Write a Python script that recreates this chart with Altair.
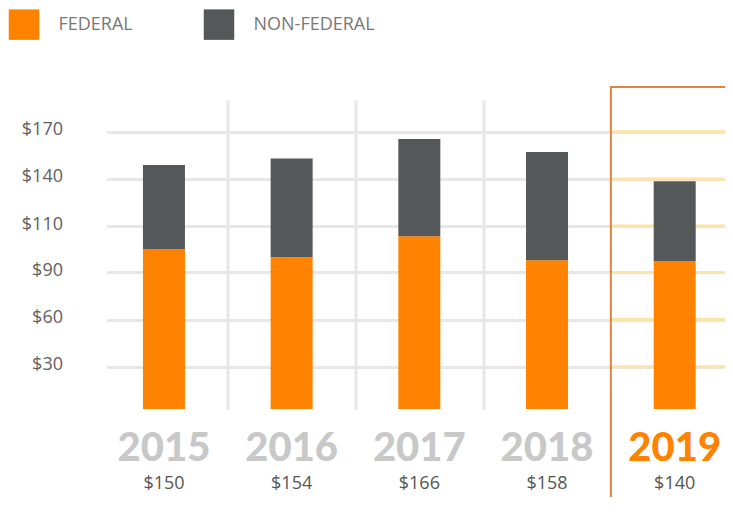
import altair as alt
import pandas as pd

# ---- data ----
years = ["2015", "2016", "2017", "2018", "2019"]
federal = [98.4, 93.3, 106.2, 91.5, 91.0]
totals = [150, 154, 166, 158, 140]
total_labels = ["$150", "$154", "$166", "$158", "$140"]
series = ["FEDERAL", "NON-FEDERAL"]
series_colors = ["#FF8300", "#555859"]
tick_positions = [26, 55, 84, 112.5, 141.5, 170.5]
tick_labels = ["$30", "$60", "$90", "$110", "$140", "$170"]
highlight_year = "2019"

non_federal = [round(t - f, 1) for t, f in zip(totals, federal)]
idx = list(range(len(years)))
hl_idx = years.index(highlight_year)

rows = []
for i, y, f, nf in zip(idx, years, federal, non_federal):
    rows.append({"idx": i, "year": y, "series": series[0], "value": f, "ord": 0})
    rows.append({"idx": i, "year": y, "series": series[1], "value": nf, "ord": 1})
bars_df = pd.DataFrame(rows)

labels_df = pd.DataFrame({
    "idx": idx,
    "year": years,
    "total_label": total_labels,
    "hl": [y == highlight_year for y in years],
})
box_df = pd.DataFrame({"idx": [hl_idx - 0.5], "idx2": [hl_idx + 1.5]})
boxgrid_df = pd.DataFrame({
    "value": tick_positions,
    "idx": [hl_idx - 0.5] * len(tick_positions),
    "idx2": [hl_idx + 1.5] * len(tick_positions),
})

label_expr = " : ".join(
    f"datum.value == {v} ? '{l}'" for v, l in zip(tick_positions, tick_labels)
) + " : ''"

x_scale = alt.Scale(domain=[-0.45, 4.39], nice=False, zero=False, padding=0)
y_scale = alt.Scale(domain=[0, 190], nice=False, zero=True, padding=0)

GRID = "#e7e7e7"

x_axis = alt.Axis(values=[0.5, 1.5, 2.5], labels=False, ticks=False,
                  domain=False, grid=True, gridColor=GRID, gridWidth=3,
                  title=None)
y_axis = alt.Axis(values=tick_positions, labelExpr=label_expr,
                  ticks=False, domain=False, grid=True,
                  gridColor=GRID, gridWidth=3, labelPadding=44,
                  labelFont="Open Sans", labelFontSize=18,
                  labelColor="#5f5f5f", labelOffset=-2, title=None)

X = lambda: alt.X("idx:Q", scale=x_scale, axis=x_axis, title=None)

box_grid = alt.Chart(boxgrid_df).mark_rule(color="#FDE3A8", strokeWidth=3).encode(
    x=X(),
    x2="idx2:Q",
    y=alt.Y("value:Q", scale=y_scale, axis=y_axis, title=None),
)

bars = alt.Chart(bars_df).mark_bar(size=42).encode(
    x=X(),
    y=alt.Y("value:Q", stack="zero", scale=y_scale, axis=y_axis, title=None),
    color=alt.Color("series:N",
                    scale=alt.Scale(domain=series, range=series_colors),
                    legend=alt.Legend(orient="none", legendX=-98, legendY=-91,
                                      direction="horizontal", title=None,
                                      symbolType="square", symbolSize=930,
                                      symbolStrokeWidth=0, symbolOpacity=1,
                                      labelFont="Open Sans", labelFontSize=18,
                                      labelColor="#777777", labelOffset=19,
                                      columnPadding=70, padding=0)),
    order=alt.Order("ord:Q"),
)

box = alt.Chart(box_df).mark_rect(
    fillOpacity=0, stroke="#DF843F", strokeWidth=2
).encode(
    x=X(),
    x2="idx2:Q",
    y=alt.value(-13),
    y2=alt.value(700),
)

year_text = alt.Chart(labels_df).mark_text(
    font="Lato", fontSize=40, fontWeight=900, baseline="alphabetic", align="center"
).encode(
    x=X(),
    y=alt.value(361),
    text="year:N",
    color=alt.condition("datum.hl", alt.value("#FF8300"), alt.value("#c8c8c8")),
)

total_text = alt.Chart(labels_df).mark_text(
    font="Open Sans", fontSize=18, baseline="alphabetic", align="center",
    color="#555555"
).encode(
    x=X(),
    y=alt.value(389),
    text="total_label:N",
)

chart = alt.layer(box_grid, bars, box, year_text, total_text).properties(
    width=618,
    height=309,
    autosize=alt.AutoSizeParams(type="none"),
    padding={"left": 98.5, "top": 92, "right": 0, "bottom": 88},
    background="white",
).configure_view(stroke=None)

chart.save("out.html", embed_options={"renderer": "svg", "actions": False})
